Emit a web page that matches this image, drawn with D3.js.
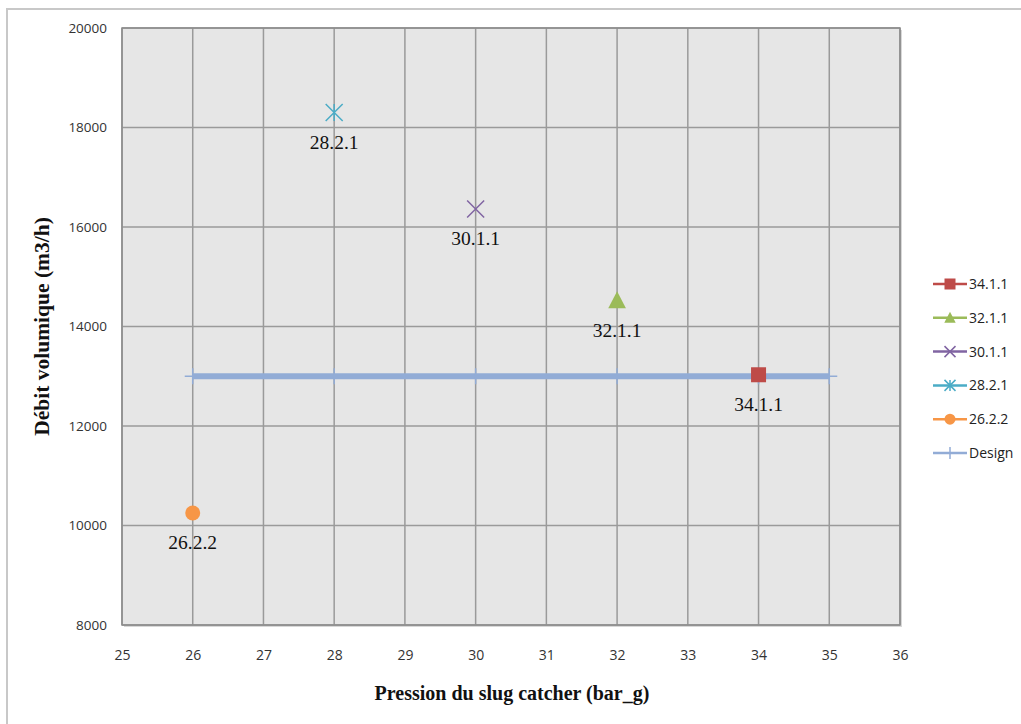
<!DOCTYPE html>
<html>
<head>
<meta charset="utf-8">
<script src="https://cdn.jsdelivr.net/npm/d3@7"></script>
<style>
  html, body { margin: 0; padding: 0; background: #fff; }
  svg { display: block; }
</style>
</head>
<body>
<svg id="chart" width="1021" height="724"></svg>
<script>
// Measured test points: pressure (bar_g) vs volumetric flow (m3/h)
const seriesNames = ["34.1.1", "32.1.1", "30.1.1", "28.2.1", "26.2.2"];
const pressures   = [34, 32, 30, 28, 26];
const flows       = [13030, 14520, 16360, 18300, 10250];
const colors      = ["#be4b48", "#9bbb59", "#8064a2", "#4bacc6", "#f79646"];
const symbols     = ["square", "triangle", "cross", "star", "circle"];

// Design flow line
const designPressures = [26, 28, 30, 32, 34, 35];
const designFlows     = [13000, 13000, 13000, 13000, 13000, 13000];
const designColor     = "#92acd6";

const xTicks = [25, 26, 27, 28, 29, 30, 31, 32, 33, 34, 35, 36];
const yTicks = [8000, 10000, 12000, 14000, 16000, 18000, 20000];

const svg = d3.select("#chart");
const plot = { left: 122, top: 28, right: 900, bottom: 625 };

const x = d3.scaleLinear().domain([25, 36]).range([plot.left, plot.right]);
const y = d3.scaleLinear().domain([8000, 20000]).range([plot.bottom, plot.top]);

const sans = "'Open Sans', 'Liberation Sans', sans-serif";
const serif = "'Liberation Serif', 'DejaVu Serif', serif";

// outer frame (right and bottom edges fall outside the canvas)
svg.append("rect")
  .attr("x", 7).attr("y", 9).attr("width", 1030).attr("height", 730)
  .attr("fill", "#fff").attr("stroke", "#c8c8c8").attr("stroke-width", 2);

// plot background with a faint shadow
svg.append("rect")
  .attr("x", plot.left + 2).attr("y", plot.top + 2)
  .attr("width", plot.right - plot.left).attr("height", plot.bottom - plot.top)
  .attr("fill", "#d8d8d8");
svg.append("rect")
  .attr("x", plot.left).attr("y", plot.top)
  .attr("width", plot.right - plot.left).attr("height", plot.bottom - plot.top)
  .attr("fill", "#e6e6e6");

// gridlines
const grid = svg.append("g").attr("stroke", "#9a9a9a").attr("stroke-width", 1.5);
grid.selectAll("line.v").data(xTicks).join("line")
  .attr("class", "v")
  .attr("x1", d => x(d)).attr("x2", d => x(d))
  .attr("y1", plot.top).attr("y2", plot.bottom);
grid.selectAll("line.h").data(yTicks).join("line")
  .attr("class", "h")
  .attr("x1", plot.left).attr("x2", plot.right)
  .attr("y1", d => y(d)).attr("y2", d => y(d));

// axes (labels only)
const xAxis = d3.axisBottom(x).tickValues(xTicks).tickSize(0).tickPadding(25)
  .tickFormat(d3.format("d"));
const gx = svg.append("g").attr("transform", `translate(0,${plot.bottom})`).call(xAxis);
gx.select(".domain").remove();
gx.selectAll("text").attr("font-family", sans)
  .attr("font-size", 14).attr("fill", "#333");

const yAxis = d3.axisLeft(y).tickValues(yTicks).tickSize(0).tickPadding(15)
  .tickFormat(d3.format("d"));
const gy = svg.append("g").attr("transform", `translate(${plot.left},0)`).call(yAxis);
gy.select(".domain").remove();
gy.selectAll("text").attr("font-family", sans)
  .attr("font-size", 13.5).attr("fill", "#333");

// plot border
svg.append("rect")
  .attr("x", plot.left).attr("y", plot.top)
  .attr("width", plot.right - plot.left).attr("height", plot.bottom - plot.top)
  .attr("fill", "none").attr("stroke", "#8c8c8c").attr("stroke-width", 1.5);

// axis titles
svg.append("text")
  .attr("x", 512).attr("y", 700)
  .attr("text-anchor", "middle")
  .attr("font-family", serif)
  .attr("font-weight", "bold").attr("font-size", 20).attr("fill", "#111")
  .text("Pression du slug catcher (bar_g)");

svg.append("text")
  .attr("transform", `translate(49,${(plot.top + plot.bottom) / 2}) rotate(-90)`)
  .attr("text-anchor", "middle")
  .attr("font-family", serif)
  .attr("font-weight", "bold").attr("font-size", 21.5).attr("fill", "#111")
  .text("Débit volumique (m3/h)");

// marker drawing
function drawMarker(g, type, color, size) {
  if (type === "square") {
    g.append("rect").attr("x", -size / 2).attr("y", -size / 2)
      .attr("width", size).attr("height", size).attr("fill", color);
  } else if (type === "triangle") {
    const s = size;
    g.append("path")
      .attr("d", `M0,${-s * 0.55}L${s * 0.52},${s * 0.45}L${-s * 0.52},${s * 0.45}Z`)
      .attr("fill", color);
  } else if (type === "circle") {
    g.append("circle").attr("r", size / 2).attr("fill", color);
  } else if (type === "cross") {
    const h = size / 2;
    g.append("path").attr("d", `M${-h},${-h}L${h},${h}M${-h},${h}L${h},${-h}`)
      .attr("stroke", color).attr("stroke-width", 1.5).attr("fill", "none");
  } else if (type === "star") {
    const h = size / 2;
    g.append("path").attr("d", `M${-h},${-h}L${h},${h}M${-h},${h}L${h},${-h}M0,${-h}L0,${h}`)
      .attr("stroke", color).attr("stroke-width", 1.5).attr("fill", "none");
  } else if (type === "plus") {
    const h = size / 2;
    g.append("path").attr("d", `M${-h},0L${h},0M0,${-h}L0,${h}`)
      .attr("stroke", color).attr("stroke-width", 1.5).attr("fill", "none");
  }
}

// design line
const line = d3.line().x((d, i) => x(designPressures[i])).y(d => y(d));
svg.append("path")
  .datum(designFlows)
  .attr("d", line)
  .attr("fill", "none").attr("stroke", designColor).attr("stroke-width", 6);
designFlows.forEach((v, i) => {
  const g = svg.append("g").attr("transform", `translate(${x(designPressures[i])},${y(v)})`);
  drawMarker(g, "plus", designColor, 16);
});

// measured points with labels
const markerSizes = { square: 15, triangle: 17, cross: 17, star: 17, circle: 15 };
seriesNames.forEach((name, i) => {
  const px = x(pressures[i]), py = y(flows[i]);
  const g = svg.append("g").attr("transform", `translate(${px},${py})`);
  drawMarker(g, symbols[i], colors[i], markerSizes[symbols[i]]);
  svg.append("text")
    .attr("x", px).attr("y", py + 36)
    .attr("text-anchor", "middle")
    .attr("font-family", serif)
    .attr("font-size", 19.5).attr("fill", "#111")
    .text(name);
});

// legend
const legendNames = seriesNames.concat(["Design"]);
const legendColors = colors.concat([designColor]);
const legendSymbols = symbols.concat(["plus"]);
const legend = svg.append("g");
legendNames.forEach((name, i) => {
  const ly = 284 + i * 33.8;
  const g = legend.append("g").attr("transform", `translate(0,${ly})`);
  g.append("line").attr("x1", 933).attr("x2", 967).attr("y1", 0).attr("y2", 0)
    .attr("stroke", legendColors[i]).attr("stroke-width", 2.5);
  const m = g.append("g").attr("transform", "translate(950,0)");
  const s = legendSymbols[i];
  drawMarker(m, s, legendColors[i], s === "plus" ? 12 : 11);
  g.append("text").attr("x", 969).attr("y", 0).attr("dy", "0.35em")
    .attr("font-family", sans)
    .attr("font-size", 14).attr("fill", "#222")
    .text(name);
});
</script>
</body>
</html>
